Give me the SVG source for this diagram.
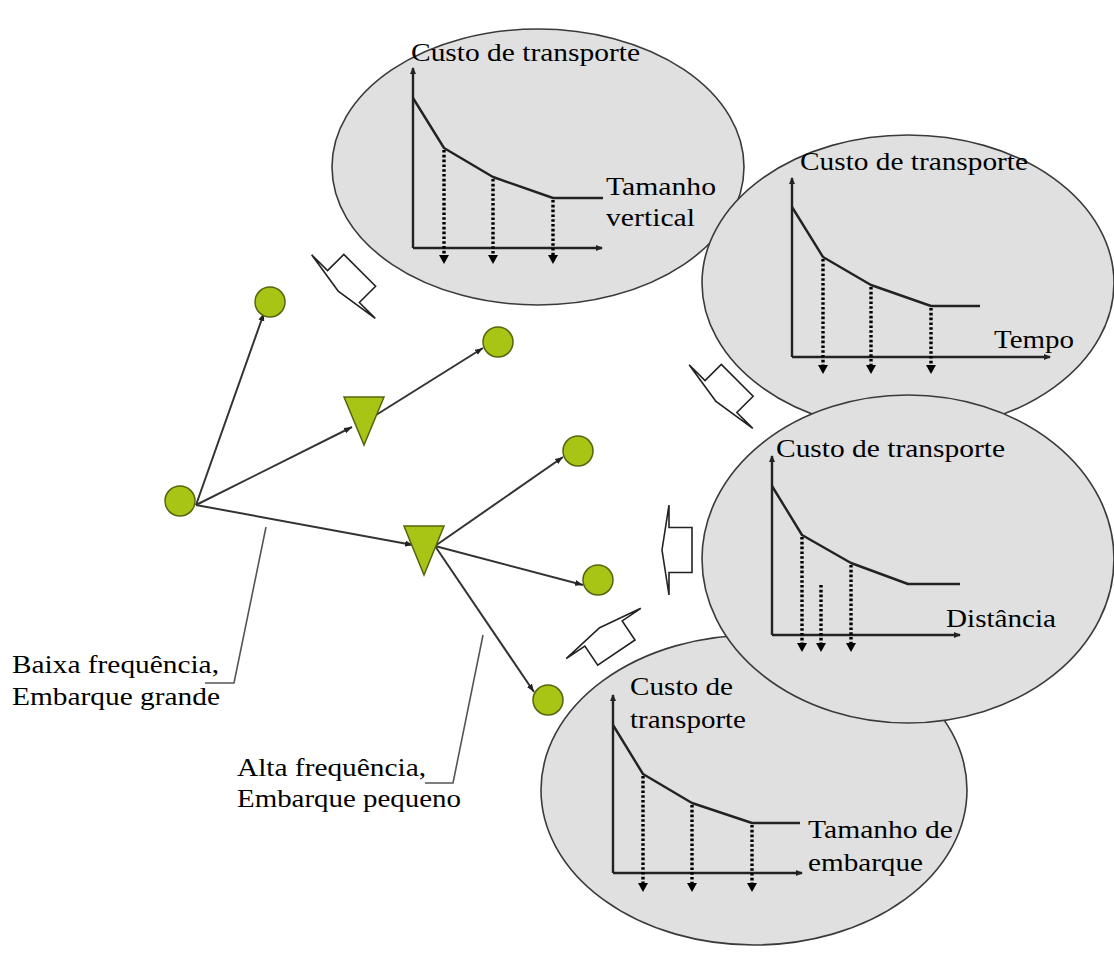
<svg xmlns="http://www.w3.org/2000/svg" width="1114" height="959" viewBox="0 0 1114 959">
<defs>
<style>
.ell{fill:#e0e0e0;stroke:#3a3a3a;stroke-width:1.6}
.ax{fill:none;stroke:#222;stroke-width:2.4;marker-end:url(#axh)}
.cv{fill:none;stroke:#222;stroke-width:2.4;stroke-linejoin:round}
.dt{fill:none;stroke:#000;stroke-width:3.4;stroke-dasharray:2.6 2.2;marker-end:url(#dnh)}
.t{font-family:"Liberation Serif","Times New Roman",serif;font-size:26px;fill:#000}
.nd{fill:#a8c414;stroke:#55650e;stroke-width:1.5}
.cn{fill:none;stroke:#333;stroke-width:2;marker-end:url(#ah)}
.co{fill:none;stroke:#555;stroke-width:1.6}
.ba{fill:#fff;stroke:#222;stroke-width:1.6;stroke-linejoin:miter}
</style>
<marker id="ah" markerUnits="userSpaceOnUse" markerWidth="9" markerHeight="7" refX="8" refY="3.5" orient="auto"><path d="M0,0.5 L8,3.5 L0,6.5 z" fill="#222"/></marker>
<marker id="axh" markerUnits="userSpaceOnUse" markerWidth="8" markerHeight="8" refX="6" refY="4" orient="auto"><path d="M0,1 L7,4 L0,7 z" fill="#222"/></marker>
<marker id="dnh" markerUnits="userSpaceOnUse" markerWidth="11" markerHeight="11" refX="2" refY="5.5" orient="auto"><path d="M0,0.5 L9,5.5 L0,10.5 z" fill="#000"/></marker>
<path id="barrow" d="M0,0 L7,-45 L7,-22.5 L30,-22.5 L30,22.5 L7,22.5 L7,45 Z"/>
</defs>
<rect width="1114" height="959" fill="#fff"/>

<g id="ellipse1">
<ellipse class="ell" cx="538" cy="167" rx="206" ry="138"/>
<text class="t" x="411" y="61" textLength="229" lengthAdjust="spacingAndGlyphs">Custo de transporte</text>
<polyline class="ax" points="413,248 413,68"/>
<polyline class="ax" points="413,248 602,248"/>
<polyline class="cv" points="413,98 444,148 493,177 553,198 603,198"/>
<line class="dt" x1="444" y1="150" x2="444" y2="257"/>
<line class="dt" x1="493" y1="179" x2="493" y2="257"/>
<line class="dt" x1="553" y1="200" x2="553" y2="257"/>
<text class="t" x="606" y="195" textLength="110" lengthAdjust="spacingAndGlyphs">Tamanho</text>
<text class="t" x="606" y="226" textLength="89" lengthAdjust="spacingAndGlyphs">vertical</text>
</g>

<g id="ellipse2">
<ellipse class="ell" cx="908" cy="283" rx="206" ry="148"/>
<text class="t" x="800" y="170" textLength="228" lengthAdjust="spacingAndGlyphs">Custo de transporte</text>
<polyline class="ax" points="792,357 792,178"/>
<polyline class="ax" points="792,357 1050,357"/>
<polyline class="cv" points="792,207 823,257 871,285 931,306 980,306"/>
<line class="dt" x1="823" y1="259" x2="823" y2="367"/>
<line class="dt" x1="871" y1="287" x2="871" y2="367"/>
<line class="dt" x1="931" y1="308" x2="931" y2="367"/>
<text class="t" x="994" y="348" textLength="80" lengthAdjust="spacingAndGlyphs">Tempo</text>
</g>

<g id="ellipse4">
<ellipse class="ell" cx="754" cy="790" rx="213" ry="155"/>
<text class="t" x="630" y="695" textLength="103" lengthAdjust="spacingAndGlyphs">Custo de</text>
<text class="t" x="630" y="728" textLength="116" lengthAdjust="spacingAndGlyphs">transporte</text>
<polyline class="ax" points="613,873 613,695"/>
<polyline class="ax" points="613,873 802,873"/>
<polyline class="cv" points="613,725 643,774 692,803 752,823 800,823"/>
<line class="dt" x1="643" y1="776" x2="643" y2="885"/>
<line class="dt" x1="692" y1="805" x2="692" y2="885"/>
<line class="dt" x1="752" y1="825" x2="752" y2="885"/>
<text class="t" x="808" y="838" textLength="145" lengthAdjust="spacingAndGlyphs">Tamanho de</text>
<text class="t" x="808" y="871" textLength="115" lengthAdjust="spacingAndGlyphs">embarque</text>
</g>

<g id="ellipse3">
<ellipse class="ell" cx="908" cy="559" rx="206" ry="164"/>
<text class="t" x="776" y="457" textLength="229" lengthAdjust="spacingAndGlyphs">Custo de transporte</text>
<polyline class="ax" points="772,635 772,456"/>
<polyline class="ax" points="772,635 960,635"/>
<polyline class="cv" points="772,486 802,535 851,563 908,584 960,584"/>
<line class="dt" x1="802" y1="537" x2="802" y2="645"/>
<line class="dt" x1="821" y1="585" x2="821" y2="645"/>
<line class="dt" x1="851" y1="565" x2="851" y2="645"/>
<text class="t" x="946" y="627" textLength="110" lengthAdjust="spacingAndGlyphs">Distância</text>
</g>

<g id="block-arrows">
<use href="#barrow" class="ba" transform="translate(338.5,291.5) rotate(-45)"/>
<use href="#barrow" class="ba" transform="translate(716,401.5) rotate(-45)"/>
<use href="#barrow" class="ba" transform="translate(662,550)"/>
<use href="#barrow" class="ba" transform="translate(599.6,627.7) rotate(56)"/>
</g>

<g id="connectors">
<line class="cn" x1="196" y1="505" x2="264" y2="313"/>
<line class="cn" x1="196" y1="505" x2="352" y2="427"/>
<line class="cn" x1="196" y1="505" x2="413" y2="545"/>
<line class="cn" x1="376" y1="415" x2="483" y2="348"/>
<line class="cn" x1="435" y1="546" x2="563" y2="457"/>
<line class="cn" x1="435" y1="546" x2="583" y2="585"/>
<line class="cn" x1="435" y1="546" x2="534" y2="692"/>
<polyline class="co" points="266,527 234,683 205,683"/>
<polyline class="co" points="483,635 453,783 425,783"/>
</g>

<g id="node-A"><circle class="nd" cx="180" cy="501" r="15"/></g>
<g id="node-B"><circle class="nd" cx="270" cy="302" r="15"/></g>
<g id="node-C"><circle class="nd" cx="498" cy="342" r="15"/></g>
<g id="node-D"><circle class="nd" cx="578" cy="451" r="15"/></g>
<g id="node-E"><circle class="nd" cx="598" cy="580" r="15"/></g>
<g id="node-F"><circle class="nd" cx="548" cy="700" r="15"/></g>
<g id="node-T1"><polygon class="nd" points="344,397 384,397 364,445"/></g>
<g id="node-T2"><polygon class="nd" points="404,526 444,526 424,575"/></g>

<g id="labels">
<text class="t" x="12" y="673" textLength="207" lengthAdjust="spacingAndGlyphs">Baixa frequência,</text>
<text class="t" x="12" y="705" textLength="208" lengthAdjust="spacingAndGlyphs">Embarque grande</text>
<text class="t" x="237" y="776" textLength="189" lengthAdjust="spacingAndGlyphs">Alta frequência,</text>
<text class="t" x="237" y="807" textLength="224" lengthAdjust="spacingAndGlyphs">Embarque pequeno</text>
</g>
</svg>
